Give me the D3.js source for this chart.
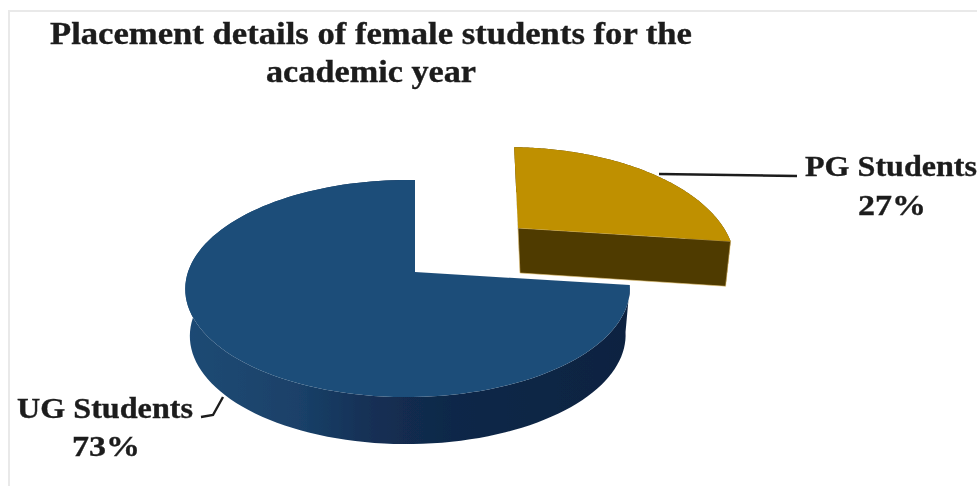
<!DOCTYPE html>
<html><head><meta charset="utf-8">
<script src="https://cdnjs.cloudflare.com/ajax/libs/d3/7.8.5/d3.min.js"></script>
<style>html,body{margin:0;padding:0;background:#fff}svg{display:block}</style>
</head><body><svg id="c" width="977" height="486"></svg>
<script>
const categories = ["PG Students", "UG Students"];
const shares = [27, 73];
const titleLines = ["Placement details of female students for the", "academic year"];

// Perspective set-up of each slice (apex, radii, extrusion)
const views = [
  {ax:518, ay:228, R:212, S:105, k:0.3, m:0.03, skew:-5, depth:45, shrink:0.033, fx:578, top:"#bf9000", wall:"#4f3a00"},
  {ax:415, ay:272, R:219.5, S:106, k:0.152, m:0.033, skew:0, depth:47, shrink:0.02, fx:415, top:"#1f4e79", wall:"url(#wallBlue)"}
];

const svg = d3.select("#c");
const defs = svg.append("defs");
const g = defs.append("linearGradient").attr("id","wallBlue").attr("gradientUnits","userSpaceOnUse")
  .attr("x1",187).attr("x2",630).attr("y1",0).attr("y2",0);
[[0,"#1e4a74"],[0.25,"#1a4169"],[0.42,"#132f54"],[0.6,"#102848"],[1,"#0e2341"]].forEach(s=>g.append("stop").attr("offset",s[0]).attr("stop-color",s[1]));
defs.append("filter").attr("id","soft").append("feGaussianBlur").attr("stdDeviation",0.5);

svg.append("path").attr("d","M9,486V11H977").attr("fill","none").attr("stroke","#e9e9e9").attr("stroke-width",2);

const arcs = d3.pie().sort(null).startAngle(0).endAngle(2*Math.PI)(shares);
function proj(v,a){
  const u=Math.sin(a), c=Math.cos(a), w=1+v.k*c+v.m*u;
  return [v.ax+(v.R*u+v.skew*c)/w, v.ay-v.S*c/w];
}
function drop(v,p){ return [p[0]+(v.fx-p[0])*v.shrink, p[1]+v.depth]; }
const line = d3.line();
const chart = svg.append("g").attr("filter","url(#soft)");

arcs.forEach((d,i)=>{
  const v=views[i];
  const pts=d3.range(0,121).map(t=>proj(v,d.startAngle+(d.endAngle-d.startAngle)*t/120));
  const apex=[v.ax,v.ay];
  chart.append("path").attr("d",line(pts.concat(pts.map(p=>drop(v,p)).reverse()))+"Z").attr("fill",v.wall);
  if(i===0){
    const end=pts[pts.length-1], start=pts[0];
    chart.append("path").attr("d",line([start,apex,drop(v,apex)])+"Z").attr("fill","#2e2200");
    chart.append("path").attr("d",line([apex,end,drop(v,end),drop(v,apex)])+"Z")
      .attr("fill",v.wall).attr("stroke","#e8c878").attr("stroke-width",0.6);
  }
  chart.append("path").attr("d",line([apex].concat(pts))+"Z").attr("fill",v.top);
});

const leaderPG=[[659,174],[797,176]], leaderUG=[[223,397],[213,415],[201,417]];
[leaderPG,leaderUG].forEach(l=>chart.append("path").attr("d",line(l)).attr("fill","none").attr("stroke","#1d1d1d").attr("stroke-width",2.4));

const txt = svg.append("g").attr("filter","url(#soft)")
  .attr("font-family","'Liberation Serif',serif").attr("font-weight","bold").attr("fill","#1c1c1c")
  .attr("stroke","#1c1c1c").attr("stroke-width",0.35);
function put(s,x,y,size,len){
  const t=txt.append("text").attr("x",x).attr("y",y).attr("font-size",size).text(s);
  if(len) t.attr("textLength",len).attr("lengthAdjust","spacingAndGlyphs");
  return t;
}
put(titleLines[0],50,44,31,642);
put(titleLines[1],266,82,31,210);
put(categories[0],805,176,30,172);
put(shares[0]+"%",858,215,30,68);
put(categories[1],17,418,30,176);
put(shares[1]+"%",72,456,30,68);
</script></body></html>
